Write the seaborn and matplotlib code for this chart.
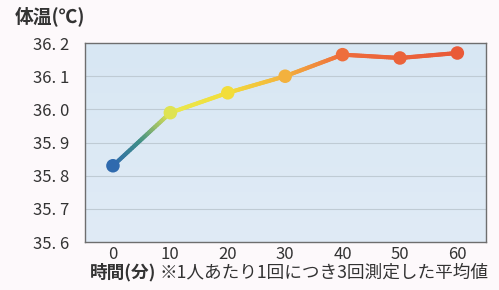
import numpy as np
import matplotlib
matplotlib.use("Agg")
import matplotlib.pyplot as plt
import seaborn as sns
import pandas as pd
from matplotlib.collections import LineCollection
from matplotlib.colors import LinearSegmentedColormap

minutes = [0, 10, 20, 30, 40, 50, 60]
temps = [35.83, 35.99, 36.05, 36.10, 36.165, 36.155, 36.17]
yticks = [35.6, 35.7, 35.8, 35.9, 36.0, 36.1, 36.2]
ytick_labels = ["35. 6", "35. 7", "35. 8", "35. 9", "36. 0", "36. 1", "36. 2"]
xticks = [0, 10, 20, 30, 40, 50, 60]
ylabel_text = "体温(℃)"
xlabel_bold = "時間(分)"
xlabel_note = "※1人あたり1回につき3回測定した平均値"

sns.set_theme(style="white")
plt.rcParams['font.family'] = ['Noto Sans CJK JP', 'DejaVu Sans']

cmap = LinearSegmentedColormap.from_list(
    "grad",
    [(0.0, "#2f6aae"), (0.08, "#3f8f86"), (0.17, "#e9e84f"), (0.33, "#f2de3a"),
     (0.5, "#f3b23e"), (0.67, "#ee6d3c"), (1.0, "#e95a38")])

fig = plt.figure(figsize=(4.99, 2.90), dpi=100, facecolor="#fdf9fb")
ax = fig.add_axes([0.170, 0.1655, 0.804, 0.686])

# background gradient
grad = np.linspace(0, 1, 256).reshape(-1, 1)
bgcmap = LinearSegmentedColormap.from_list("bg", ["#d8e7f3", "#e0ebf6"])
ax.imshow(grad, extent=[0, 1, 0, 1], transform=ax.transAxes, cmap=bgcmap,
          aspect="auto", zorder=0, origin="upper")

ax.set_xlim(-4.9, 65)
ax.set_ylim(35.6, 36.2)

for yv in yticks[1:-1]:
    ax.axhline(yv, color="#bfcbd4", lw=0.8, zorder=1)

# gradient line
xs = np.array(minutes, dtype=float)
ys = np.array(temps, dtype=float)
segs, cols = [], []
for i in range(len(xs) - 1):
    n = 30
    for k in range(n):
        t0, t1 = k / n, (k + 1) / n
        p0 = (xs[i] + (xs[i+1]-xs[i])*t0, ys[i] + (ys[i+1]-ys[i])*t0)
        p1 = (xs[i] + (xs[i+1]-xs[i])*t1, ys[i] + (ys[i+1]-ys[i])*t1)
        segs.append([p0, p1])
        cols.append(cmap(((p0[0]+p1[0])/2) / 60))
lc = LineCollection(segs, colors=cols, linewidths=3.0, capstyle="round", zorder=3)
ax.add_collection(lc)

df = pd.DataFrame({"min": minutes, "temp": temps})
sns.scatterplot(data=df, x="min", y="temp", ax=ax, s=95,
                color=[cmap(m / 60) for m in minutes], edgecolor="none",
                zorder=4, legend=False)

ax.set_yticks(yticks)
ax.set_yticklabels(ytick_labels, fontsize=12, color="#333333")
ax.set_xticks(xticks)
ax.set_xticklabels([str(v) for v in xticks], fontsize=12, color="#333333")
ax.tick_params(axis="y", length=0, pad=11)
ax.tick_params(axis="x", length=0, pad=3)
ax.set_xlabel("")
ax.set_ylabel("")
for s in ax.spines.values():
    s.set_color("#6e6e6e")
    s.set_linewidth(1.0)

fig.text(15/499, 1 - 16/290, ylabel_text, fontsize=13.5, fontweight="bold",
         color="#333333", va="center", ha="left")
fig.text(90/499, 1 - 272/290, xlabel_bold, fontsize=12.7, fontweight="bold",
         color="#333333", va="center", ha="left")
fig.text(488/499, 1 - 272/290, xlabel_note, fontsize=12.7,
         color="#333333", va="center", ha="right")

fig.savefig("out.png", dpi=100, facecolor=fig.get_facecolor())
